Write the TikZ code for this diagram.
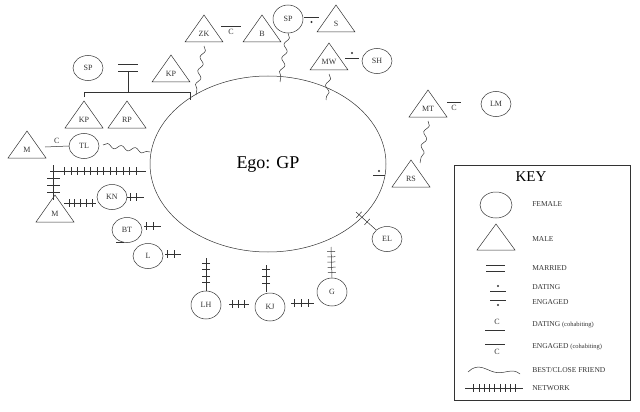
\documentclass[tikz,border=0pt]{standalone}
\usepackage{fontspec}
\setmainfont{Liberation Serif}
\usetikzlibrary{shapes.geometric,decorations.pathmorphing,decorations.markings}
\tikzset{
  every path/.style={line width=0.5pt},
  lab/.style={font=\fontsize{8}{9}\selectfont, inner sep=0pt},
  fem/.style={draw, ellipse, minimum width=30, minimum height=25, inner sep=0pt, font=\fontsize{8}{9}\selectfont},
  friend/.style={decorate, decoration={snake, segment length=14, amplitude=2.2}},
  net/.style={postaction={decorate, decoration={markings,
     mark=between positions 0.15 and 0.9 step #1 with {\draw (0,-4)--(0,4);}}}},
  keylab/.style={font=\fontsize{7.5}{9}\selectfont, anchor=west, inner sep=0pt},
}
\newcommand\tri[4]{\node[lab] (#1) at (#2,#3) {#4};
  \draw ([shift={(-19,8)}]#1.center) -- ([shift={(0,-19)}]#1.center) -- ([shift={(19,8)}]#1.center) -- cycle;
  \coordinate (#1b) at ([shift={(0,12)}]#1.center);}
\begin{document}
\begin{tikzpicture}[x=1pt,y=-1pt,color=black!80]
\useasboundingbox (0,0) rectangle (640,412);
\node[draw, ellipse, minimum width=236, minimum height=176, font=\fontsize{18}{20}\selectfont, text=black] (ego) at (268,164) {Ego: GP};
% top left family
\node[fem] (sp1) at (88,68) {SP};
\draw (118,64) -- (138,64) (118,71) -- (138,71);
\coordinate (fam) at (128,92);
\draw (128,71) -- (fam);
\draw (84,97) -- (84,92) -- (190,92) -- (190,100);
\tri{kp0}{171}{74}{KP}
\tri{kp1}{84}{120}{KP}
\tri{rp}{127}{120}{RP}
\tri{m1}{27}{150}{M}
\node[fem] (tl) at (84,146) {TL};
\draw (45,147) -- node[lab, above=3pt] {C} (tl.west);
\draw[friend] (103,145) -- (150,152);
% networks left
\coordinate (n1a) at (50,171); \coordinate (n1b) at (146,171);
\draw[net=0.068] (n1a) -- (n1b);
\coordinate (n2a) at (53,165); \coordinate (n2b) at (53,200);
\draw (n2a) -- (n2b);
\foreach \y in {178,185,192} \draw (47,\y) -- (60,\y);
\tri{m2}{55}{214}{M}
\node[fem] (kn) at (112,197) {KN};
\draw[net=0.18] (64,203) -- (96,203);
\coordinate (knx) at (144,197);
\draw[net=0.4] (kn.east) -- (knx);
\node[fem] (bt) at (127,230) {BT};
\draw[net=0.4] (144,226) -- (161,226);
\node[fem] (l) at (148,256) {L};
\draw (bt.south west) ++(0,3) -- ++(8,0);
\draw[net=0.4] (165,254) -- (181,254);
% bottom
\node[fem, minimum height=28] (lh) at (206,305) {LH};
\draw[net=0.2] (206,258) -- (lh.north);
\node[fem, minimum height=28] (kj) at (270,307) {KJ};
\draw[net=0.27] (266,265) -- (266,292);
\draw[net=0.3] (229,304) -- (249,304);
\node[fem, minimum height=28] (g) at (332,292) {G};
\draw[net=0.17] (331,247) -- (g.north);
\draw[net=0.3] (291,303) -- (314,303);
\node[fem] (el) at (387,239) {EL};
\draw[net=0.4] (356,212) -- (el.north west);
% top
\tri{zk}{204}{34}{ZK}
\tri{b}{262}{34}{B}
\draw (221,26) -- node[lab, below=3pt] {C} (241,26);
\node[fem, minimum height=28] (sp2) at (288,19) {SP};
\tri{s}{336}{24}{S}
\draw (304,17) -- (319,17); \fill (311.5,22) circle (1.1);
\tri{mw}{329}{62}{MW}
\node[fem] (sh) at (377,61) {SH};
\draw (345,58) -- (359,58); \fill (352,53) circle (1.1);
\draw[friend] (zkb) -- (196,95);
\draw[friend] (sp2.south) -- (280,82);
\draw[friend] (mwb) -- (326,100);
% right
\tri{mt}{428}{109}{MT}
\node[fem] (lm) at (496,104) {LM};
\draw (447,102) -- node[lab, below=3pt] {C} (461,102);
\tri{rs}{411}{179}{RS}
\draw[friend] (mtb) -- (420,163);
\draw (373,175) -- (385,175); \fill (379,171) circle (1.1);
% key
\draw (454,165) rectangle (630,400);
\node[font=\fontsize{15}{16}\selectfont, text=black] (key) at (531,177) {KEY};
\node[draw, ellipse, minimum width=32, minimum height=26] (kf) at (496,205) {};
\node[keylab] at (532,204) {FEMALE};
\draw (477,250) -- (496,224) -- (515,250) -- cycle;
\node[keylab] at (532,239) {MALE};
\draw (486,265) -- (505,265) (486,271) -- (505,271);
\node[keylab] at (532,268) {MARRIED};
\fill (498,286) circle (1.1); \draw (490,291) -- (506,291);
\node[keylab] at (532,287) {DATING};
\draw (490,300) -- (506,300); \fill (498,305) circle (1.1);
\node[keylab] at (532,302) {ENGAGED};
\node[lab] at (497,322) {C}; \draw (485,330) -- (505,330);
\node[keylab] at (532,325) {DATING \fontsize{6.5}{8}\selectfont(cohabiting)};
\draw (485,344) -- (505,344); \node[lab] at (497,352) {C};
\node[keylab] at (532,347) {ENGAGED \fontsize{6.5}{8}\selectfont(cohabiting)};
\draw (468,372) .. controls (478,362) and (486,370) .. (494,372) .. controls (504,375) and (512,367) .. (520,374);
\node[keylab] at (532,370) {BEST/CLOSE FRIEND};
\coordinate (kna) at (465,388); \coordinate (knb) at (523,388);
\draw[net=0.09] (kna) -- (knb);
\node[keylab] at (532,388) {NETWORK};
\end{tikzpicture}
\end{document}
